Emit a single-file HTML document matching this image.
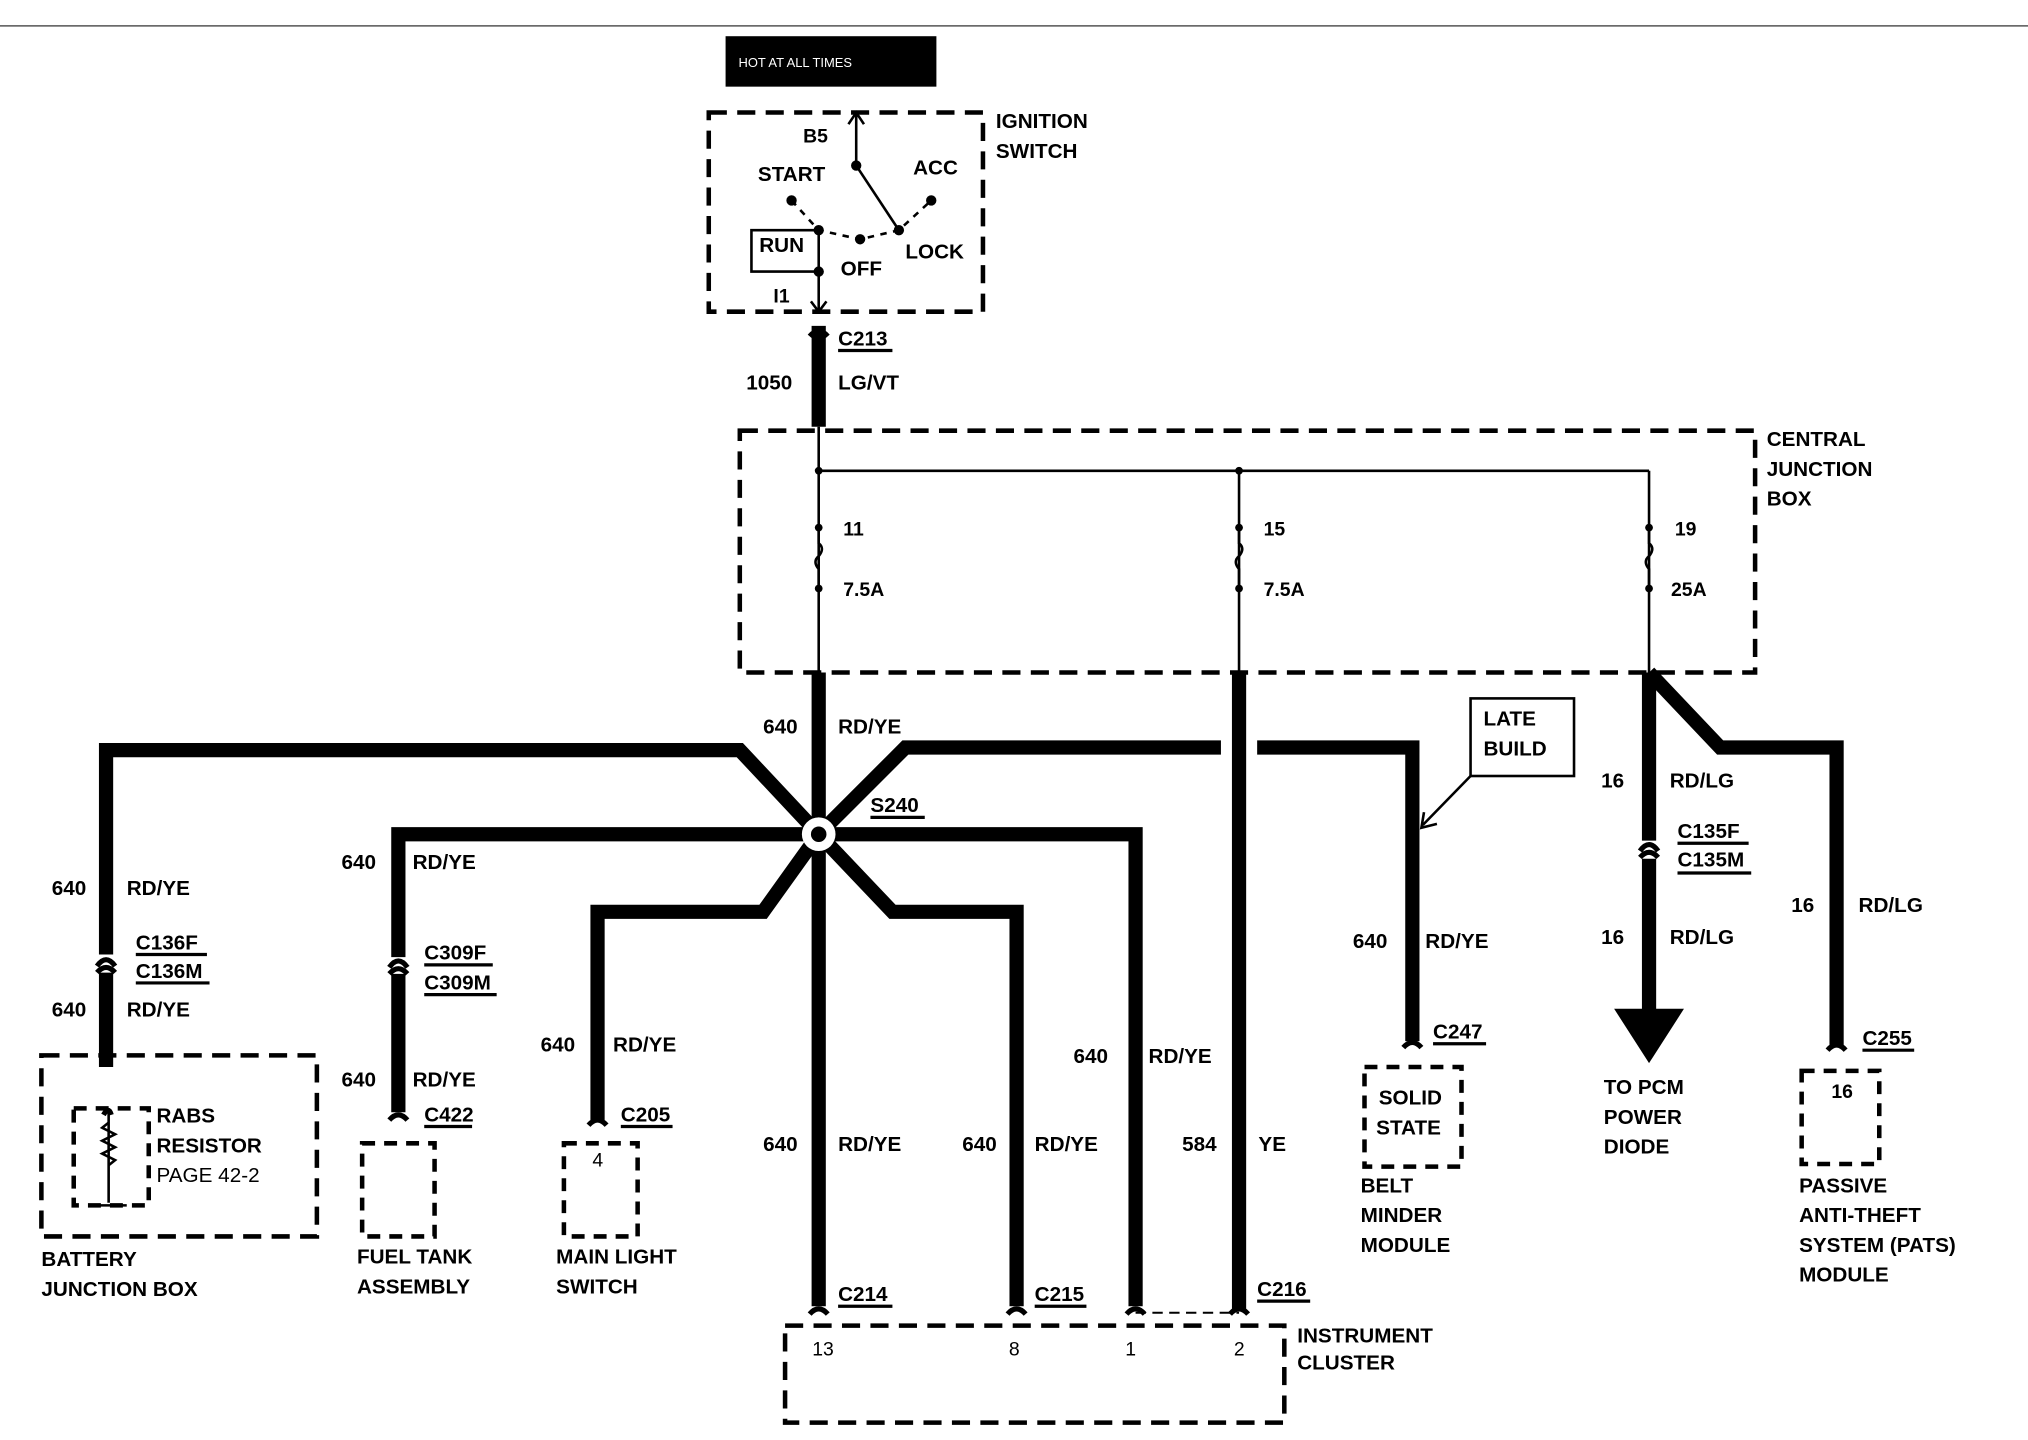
<!DOCTYPE html>
<html><head><meta charset="utf-8"><style>
html,body{margin:0;padding:0;background:#fff;overflow:hidden}
svg{display:block}
text{font-family:"Liberation Sans",sans-serif;font-weight:bold;font-size:16px;fill:#000}
.t{font-size:15px}
</style></head><body>
<svg width="2028" height="1440" viewBox="0 0 1568 1113.4" preserveAspectRatio="none" xmlns="http://www.w3.org/2000/svg">
<line x1="0" y1="20" x2="1568" y2="20" stroke="#555" stroke-width="1.2"/>
<rect x="561" y="28" width="163" height="39" fill="#000"/>
<text x="571" y="52" style="font-size:10px;font-weight:normal;fill:#fff">HOT AT ALL TIMES</text>

<g fill="none" stroke="#000" stroke-width="3.5" stroke-dasharray="14,8">
<rect x="548" y="87" width="212" height="154"/>
<rect x="572" y="333" width="785" height="187"/>
<rect x="32" y="816" width="213" height="140"/>
<rect x="57" y="857" width="58" height="75" stroke-dasharray="10,7"/>
<rect x="280" y="884" width="56" height="72" stroke-dasharray="10,7"/>
<rect x="436" y="884" width="57" height="72" stroke-dasharray="10,7"/>
<rect x="1055" y="825" width="75" height="77" stroke-dasharray="10,7"/>
<rect x="1393" y="828" width="60" height="72" stroke-dasharray="10,7"/>
<rect x="607" y="1025" width="386" height="75"/>
<line x1="878" y1="1015" x2="958" y2="1015" stroke-width="1.5" stroke-dasharray="8,5"/>
</g>
<g stroke="#000" stroke-width="2" fill="none">
<line x1="662" y1="88" x2="662" y2="128"/>
<polyline points="656,96 662,87 668,96"/>
<line x1="662" y1="128" x2="695" y2="178"/>
<polyline points="612,155 633,178 665,185 695,178 720,155" stroke-dasharray="5,5"/>
<polyline points="633,178 581,178 581,210 633,210"/>
<line x1="633" y1="178" x2="633" y2="240"/>
<polyline points="627,233 633,241 639,233"/>
<line x1="633" y1="330" x2="633" y2="520"/>
<line x1="633" y1="364" x2="1275" y2="364"/>
<line x1="958" y1="364" x2="958" y2="520"/>
<line x1="1275" y1="364" x2="1275" y2="520"/>
<path d="M633,408 v12 q5,4 0,10 q-5,4 0,10 v15"/>
<path d="M958,408 v12 q5,4 0,10 q-5,4 0,10 v15"/>
<path d="M1275,408 v12 q5,4 0,10 q-5,4 0,10 v15"/>
<rect x="1137" y="540" width="80" height="60"/>
<line x1="1137" y1="600" x2="1100" y2="638"/>
<polyline points="1101,628 1099,640 1111,637"/>
<line x1="84" y1="858" x2="84" y2="930"/>
<path d="M84,868 l-5,4 l10,5 l-10,5 l10,5 l-10,5 l10,5 l-5,4"/>
<line x1="70" y1="932" x2="98" y2="932"/>
</g>
<g fill="#000">
<circle cx="662" cy="128" r="4"/><circle cx="612" cy="155" r="4"/><circle cx="720" cy="155" r="4"/>
<circle cx="633" cy="178" r="4"/><circle cx="665" cy="185" r="4"/><circle cx="695" cy="178" r="4"/><circle cx="633" cy="210" r="4"/>
<circle cx="633" cy="364" r="3"/><circle cx="958" cy="364" r="3"/>
<circle cx="633" cy="408" r="3"/><circle cx="633" cy="455" r="3"/>
<circle cx="958" cy="408" r="3"/><circle cx="958" cy="455" r="3"/>
<circle cx="1275" cy="408" r="3"/><circle cx="1275" cy="455" r="3"/>
</g>

<g fill="none" stroke="#000" stroke-width="11" stroke-linejoin="miter">
<line x1="633" y1="252" x2="633" y2="330"/>
<line x1="633" y1="520" x2="633" y2="1010"/>
<polyline points="633,645 572,580 82,580 82,738"/>
<line x1="82" y1="752" x2="82" y2="825"/>
<polyline points="633,645 700,578 944,578"/>
<polyline points="972,578 1092,578 1092,805"/>
<line x1="958" y1="520" x2="958" y2="1012"/>
<polyline points="308,740 308,645 878,645 878,1010"/>
<line x1="308" y1="753" x2="308" y2="860"/>
<polyline points="633,645 590,705 462,705 462,866"/>
<polyline points="633,645 690,705 786,705 786,1010"/>
<line x1="1275" y1="520" x2="1275" y2="650"/>
<line x1="1275" y1="664" x2="1275" y2="785"/>
<polyline points="1275,520 1330,578 1420,578 1420,808"/>
</g>
<polygon points="1248,780 1302,780 1275,822" fill="#000"/>
<circle cx="633" cy="645" r="13" fill="#fff"/>
<circle cx="633" cy="645" r="6" fill="#000"/>
<g fill="none" stroke="#000" stroke-width="4">
<path d="M75,747 Q82,737 89,747"/><path d="M75,752 Q82,744 89,752"/>
<path d="M301,748 Q308,738 315,748"/><path d="M301,753 Q308,745 315,753"/>
<path d="M1268,658 Q1275,648 1282,658"/><path d="M1268,663 Q1275,655 1282,663"/>
<path d="M626,260 Q633,252 640,260"/>
<path d="M86,862 Q84,855 80,862"/>
<path d="M301,866 Q308,858 315,866"/><path d="M455,870 Q462,862 469,870"/>
<path d="M626,1016 Q633,1008 640,1016"/><path d="M779,1016 Q786,1008 793,1016"/>
<path d="M871,1016 Q878,1008 885,1016"/><path d="M951,1016 Q958,1008 965,1016"/>
<path d="M1085,810 Q1092,802 1099,810"/><path d="M1413,812 Q1420,804 1427,812"/>
</g>

<text x="621" y="110" class="t">B5</text>
<text x="586" y="140">START</text>
<text x="706" y="135">ACC</text>
<text x="587" y="195">RUN</text>
<text x="650" y="213">OFF</text>
<text x="700" y="200">LOCK</text>
<text x="598" y="234" class="t">I1</text>
<text x="770" y="99">IGNITION</text>
<text x="770" y="122">SWITCH</text>
<text x="648" y="267">C213</text><line x1="648" y1="271" x2="690" y2="271" stroke="#000" stroke-width="2.5"/>
<text x="577" y="301">1050</text><text x="648" y="301">LG/VT</text>
<text x="1366" y="345">CENTRAL</text><text x="1366" y="368">JUNCTION</text><text x="1366" y="391">BOX</text>
<text x="652" y="414" class="t">11</text><text x="652" y="461" class="t">7.5A</text>
<text x="977" y="414" class="t">15</text><text x="977" y="461" class="t">7.5A</text>
<text x="1295" y="414" class="t">19</text><text x="1292" y="461" class="t">25A</text>
<text x="590" y="567">640</text><text x="648" y="567">RD/YE</text>
<text x="673" y="628">S240</text><line x1="673" y1="632" x2="715" y2="632" stroke="#000" stroke-width="2.5"/>
<text x="1147" y="561">LATE</text><text x="1147" y="584">BUILD</text>
<text x="40" y="692">640</text><text x="98" y="692">RD/YE</text>
<text x="105" y="734">C136F</text><line x1="105" y1="738" x2="160" y2="738" stroke="#000" stroke-width="2.5"/>
<text x="105" y="756">C136M</text><line x1="105" y1="760" x2="162" y2="760" stroke="#000" stroke-width="2.5"/>
<text x="40" y="786">640</text><text x="98" y="786">RD/YE</text>
<text x="121" y="868">RABS</text><text x="121" y="891">RESISTOR</text><text x="121" y="914" style="font-weight:normal">PAGE 42-2</text>
<text x="32" y="979">BATTERY</text><text x="32" y="1002">JUNCTION BOX</text>
<text x="264" y="672">640</text><text x="319" y="672">RD/YE</text>
<text x="328" y="742">C309F</text><line x1="328" y1="746" x2="381" y2="746" stroke="#000" stroke-width="2.5"/>
<text x="328" y="765">C309M</text><line x1="328" y1="769" x2="384" y2="769" stroke="#000" stroke-width="2.5"/>
<text x="264" y="840">640</text><text x="319" y="840">RD/YE</text>
<text x="328" y="867">C422</text><line x1="328" y1="871" x2="365" y2="871" stroke="#000" stroke-width="2.5"/>
<text x="276" y="977">FUEL TANK</text><text x="276" y="1000">ASSEMBLY</text>
<text x="418" y="813">640</text><text x="474" y="813">RD/YE</text>
<text x="480" y="867">C205</text><line x1="480" y1="871" x2="520" y2="871" stroke="#000" stroke-width="2.5"/>
<text x="458" y="902" class="t" style="font-weight:normal">4</text>
<text x="430" y="977">MAIN LIGHT</text><text x="430" y="1000">SWITCH</text>
<text x="590" y="890">640</text><text x="648" y="890">RD/YE</text>
<text x="744" y="890">640</text><text x="800" y="890">RD/YE</text>
<text x="830" y="822">640</text><text x="888" y="822">RD/YE</text>
<text x="914" y="890">584</text><text x="973" y="890">YE</text>
<text x="648" y="1006">C214</text><line x1="648" y1="1010" x2="690" y2="1010" stroke="#000" stroke-width="2.5"/>
<text x="800" y="1006">C215</text><line x1="800" y1="1010" x2="840" y2="1010" stroke="#000" stroke-width="2.5"/>
<text x="972" y="1002">C216</text><line x1="972" y1="1006" x2="1013" y2="1006" stroke="#000" stroke-width="2.5"/>
<text x="628" y="1048" class="t" style="font-weight:normal">13</text>
<text x="780" y="1048" class="t" style="font-weight:normal">8</text>
<text x="870" y="1048" class="t" style="font-weight:normal">1</text>
<text x="954" y="1048" class="t" style="font-weight:normal">2</text>
<text x="1003" y="1038">INSTRUMENT</text><text x="1003" y="1059">CLUSTER</text>
<text x="1046" y="733">640</text><text x="1102" y="733">RD/YE</text>
<text x="1108" y="803">C247</text><line x1="1108" y1="807" x2="1149" y2="807" stroke="#000" stroke-width="2.5"/>
<text x="1066" y="854">SOLID</text><text x="1064" y="877">STATE</text>
<text x="1052" y="922">BELT</text><text x="1052" y="945">MINDER</text><text x="1052" y="968">MODULE</text>
<text x="1238" y="609">16</text><text x="1291" y="609">RD/LG</text>
<text x="1297" y="648">C135F</text><line x1="1297" y1="652" x2="1352" y2="652" stroke="#000" stroke-width="2.5"/>
<text x="1297" y="670">C135M</text><line x1="1297" y1="675" x2="1354" y2="675" stroke="#000" stroke-width="2.5"/>
<text x="1238" y="730">16</text><text x="1291" y="730">RD/LG</text>
<text x="1240" y="846">TO PCM</text><text x="1240" y="869">POWER</text><text x="1240" y="892">DIODE</text>
<text x="1385" y="705">16</text><text x="1437" y="705">RD/LG</text>
<text x="1440" y="808">C255</text><line x1="1440" y1="812" x2="1480" y2="812" stroke="#000" stroke-width="2.5"/>
<text x="1416" y="849" class="t">16</text>
<text x="1391" y="922">PASSIVE</text><text x="1391" y="945">ANTI-THEFT</text><text x="1391" y="968">SYSTEM (PATS)</text><text x="1391" y="991">MODULE</text>
</svg>
</body></html>
